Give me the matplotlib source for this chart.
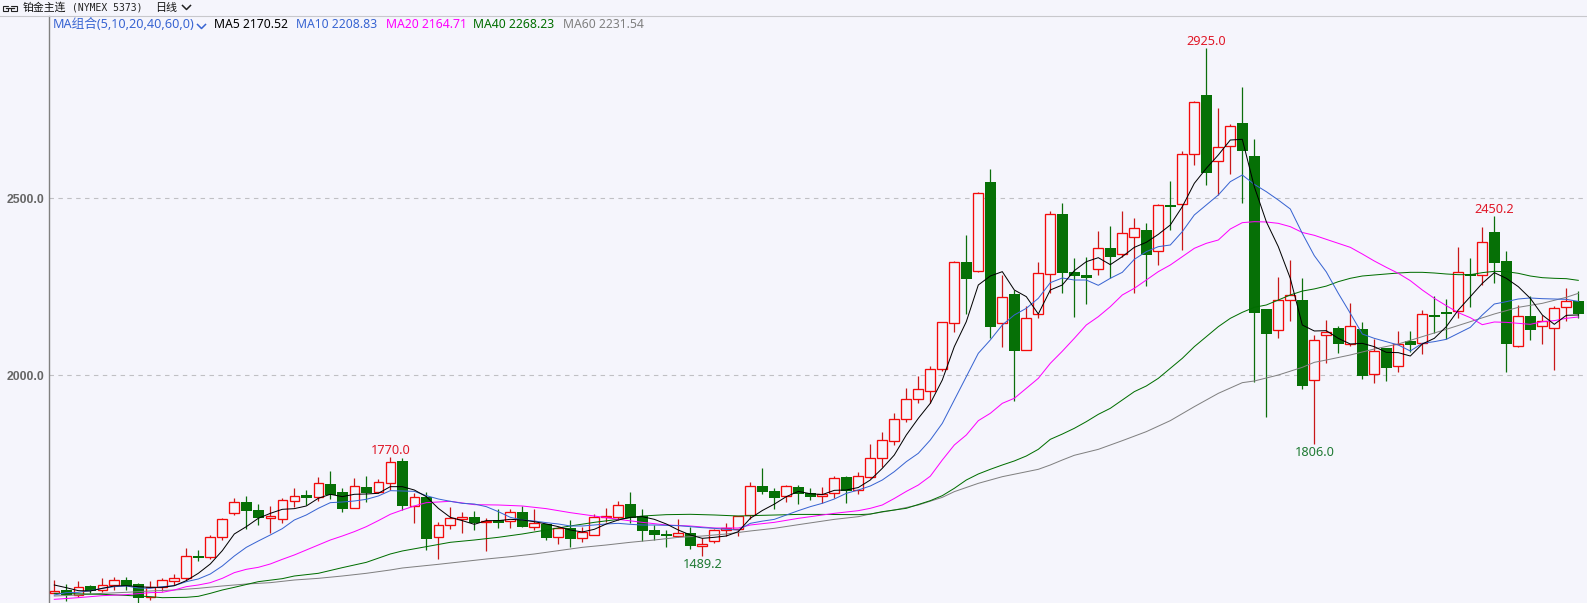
import matplotlib
matplotlib.use('Agg')
import matplotlib.pyplot as plt
from matplotlib.lines import Line2D
from matplotlib.patches import Rectangle
import numpy as np

W, H = 1587, 603
BG = '#F5F5FC'

# daily candles
opens = [1386, 1393, 1378, 1405, 1393, 1409, 1422, 1410, 1375, 1401, 1420, 1426, 1490, 1488, 1544, 1612,
         1642, 1620, 1598, 1593, 1646, 1662, 1657, 1693, 1670, 1626, 1685, 1671, 1697, 1758, 1632, 1656,
         1544, 1578, 1595, 1599, 1585, 1591, 1587, 1614, 1572, 1581, 1542, 1568, 1541, 1550, 1599, 1601,
         1636, 1602, 1562, 1551, 1547, 1554, 1519, 1531, 1563, 1565, 1604, 1687, 1672, 1658, 1685, 1667,
         1660, 1667, 1713, 1676, 1714, 1765, 1813, 1876, 1932, 1955, 2017, 2147, 2320, 2294, 2546, 2149,
         2230, 2071, 2172, 2285, 2456, 2292, 2283, 2299, 2361, 2342, 2390, 2410, 2350, 2481, 2483, 2624,
         2792, 2604, 2647, 2713, 2620, 2187, 2127, 2212, 2213, 1986, 2115, 2134, 2089, 2131, 2003, 2077,
         2025, 2096, 2090, 2170, 2179, 2181, 2286, 2282, 2405, 2323, 2082, 2167, 2138, 2135, 2192, 2209]
highs = [1422, 1410, 1419, 1408, 1426, 1430, 1430, 1414, 1419, 1426, 1439, 1512, 1507, 1549, 1597, 1653,
         1659, 1636, 1631, 1653, 1682, 1676, 1713, 1730, 1681, 1710, 1716, 1706, 1770, 1766, 1667, 1669,
         1585, 1628, 1614, 1617, 1596, 1621, 1621, 1631, 1622, 1581, 1572, 1591, 1572, 1608, 1624, 1645,
         1670, 1622, 1577, 1563, 1594, 1572, 1539, 1565, 1582, 1602, 1699, 1738, 1681, 1690, 1690, 1681,
         1685, 1716, 1716, 1727, 1806, 1840, 1893, 1964, 1998, 2026, 2150, 2323, 2396, 2517, 2583, 2283,
         2241, 2196, 2320, 2463, 2488, 2331, 2333, 2409, 2422, 2464, 2444, 2430, 2484, 2549, 2634, 2774,
         2925, 2755, 2710, 2814, 2668, 2187, 2278, 2326, 2275, 2114, 2156, 2139, 2204, 2150, 2103, 2077,
         2125, 2126, 2185, 2223, 2216, 2362, 2330, 2418, 2450.2, 2351, 2200, 2223, 2170, 2195, 2246, 2237]
lows = [1384, 1363, 1375, 1384, 1389, 1393, 1393, 1357, 1365, 1390, 1407, 1422, 1474, 1480, 1535, 1605,
        1566, 1577, 1555, 1584, 1629, 1634, 1646, 1651, 1614, 1626, 1643, 1667, 1676, 1620, 1584, 1506,
        1482, 1567, 1555, 1563, 1505, 1570, 1569, 1572, 1563, 1535, 1523, 1516, 1530, 1550, 1585, 1591,
        1584, 1531, 1535, 1516, 1544, 1510, 1489.2, 1525, 1546, 1546, 1593, 1665, 1623, 1643, 1636, 1648,
        1638, 1652, 1638, 1665, 1709, 1742, 1803, 1869, 1923, 1921, 2013, 2123, 2173, 2292, 2104, 2081,
        1928, 2071, 2163, 2232, 2233, 2166, 2201, 2283, 2274, 2335, 2233, 2253, 2312, 2410, 2354, 2594,
        2538, 2509, 2569, 2488, 1982, 1883, 2106, 2152, 1962, 1806, 2036, 2064, 2083, 1990, 1979, 1985,
        2009, 2067, 2061, 2119, 2103, 2162, 2194, 2255, 2262, 2010, 2081, 2100, 2089, 2015, 2154, 2162]
closes = [1392, 1378, 1401, 1390, 1407, 1421, 1405, 1372, 1401, 1421, 1426, 1489, 1484, 1542, 1593, 1641,
          1618, 1597, 1602, 1647, 1658, 1653, 1695, 1661, 1623, 1686, 1667, 1698, 1754, 1632, 1655, 1538,
          1578, 1596, 1599, 1582, 1588, 1584, 1613, 1572, 1584, 1541, 1568, 1538, 1556, 1599, 1602, 1635,
          1597, 1561, 1549, 1547, 1554, 1519, 1524, 1562, 1569, 1602, 1686, 1671, 1654, 1686, 1664, 1657,
          1664, 1709, 1673, 1715, 1765, 1816, 1876, 1932, 1960, 2017, 2150, 2319, 2273, 2514, 2137, 2220,
          2070, 2161, 2288, 2456, 2290, 2280, 2276, 2361, 2335, 2401, 2415, 2341, 2480, 2476, 2624, 2771,
          2572, 2644, 2703, 2635, 2177, 2118, 2212, 2226, 1971, 2099, 2122, 2089, 2138, 1999, 2068, 2022,
          2088, 2086, 2172, 2165, 2173, 2291, 2281, 2376, 2318, 2089, 2167, 2129, 2152, 2189, 2209, 2174]

ma5 = [1407.6, 1400, 1391.6, 1390.7, 1398.2, 1404.8, 1405.7, 1402.9, 1401, 1401, 1405.7, 1419.9, 1440.6, 1467, 1504.6,
       1551.7, 1572.4, 1596, 1610, 1621.4, 1623.3, 1630.8, 1652.5, 1663.8, 1657.2, 1663.8, 1664.7, 1666.6, 1685.4, 1685.4,
       1676, 1657.2, 1624.2, 1598.8, 1589.4, 1579, 1589.4, 1589.4, 1593.1, 1591.2, 1586.5, 1580, 1572.4, 1563, 1557.4,
       1564.9, 1580, 1591.2, 1598.8, 1600.7, 1593.1, 1580, 1563, 1548.9, 1539.4, 1542.3, 1546, 1558.3, 1596, 1618,
       1636, 1657.2, 1672, 1665.5, 1663, 1675, 1676, 1683, 1704.2, 1737.2, 1774.8, 1831.3, 1878.4, 1920.8, 1986.7,
       2080.9, 2151.5, 2255.1, 2280.5, 2292.8, 2241, 2222.2, 2173.2, 2241, 2255.1, 2295.6, 2321, 2332.3, 2312.6, 2335.1,
       2361.5, 2375.6, 2398.2, 2424.6, 2476.4, 2542.3, 2584.7, 2622.4, 2664.7, 2666.6, 2532.9, 2434, 2363.4, 2273.9, 2142.1,
       2125.2, 2126.1, 2104.4, 2088.4, 2090.3, 2080.9, 2064.9, 2064, 2054.5, 2088.4, 2104.4, 2137.4, 2184.5, 2222.2, 2259.8,
       2290, 2274, 2250.4, 2217.4, 2170.4, 2144, 2169.4, 2170.52]
ma10 = [1379.4, 1386, 1386.9, 1391.6, 1398.2, 1402.9, 1404.8, 1399.1, 1398.2, 1402.9, 1405.7, 1417, 1424.6, 1438.7, 1461.3,
        1489.5, 1514, 1531.9, 1548.9, 1566.8, 1591.2, 1605.4, 1624.2, 1640.2, 1642.1, 1644.9, 1649.6, 1659, 1674.1, 1673.2,
        1672.2, 1660, 1650.6, 1644, 1638.3, 1636.4, 1628.9, 1614.8, 1598.8, 1591.2, 1588.4, 1583.7, 1580, 1574.3, 1574.3,
        1577.1, 1580, 1581.8, 1579, 1577.1, 1577.1, 1576.2, 1575.2, 1572.4, 1569.6, 1567.7, 1564.9, 1563, 1581.8, 1588,
        1593, 1605.3, 1617.6, 1628.9, 1638.3, 1650.5, 1666.5, 1676, 1687.3, 1704.2, 1727.8, 1756, 1779.6, 1817.2, 1864.3,
        1930.2, 1996.1, 2062.1, 2099.8, 2142.1, 2170.4, 2189.2, 2217.4, 2261.7, 2274.9, 2269.2, 2269.2, 2254.2, 2274, 2290.9,
        2327.6, 2349.3, 2363.4, 2368.1, 2405.8, 2452.9, 2481.1, 2509.4, 2547, 2565.9, 2539.5, 2518.8, 2495.2, 2469.8, 2401,
        2338, 2292, 2231.6, 2175.1, 2116.7, 2104.4, 2095, 2085.6, 2068.7, 2090.3, 2095, 2101.6, 2118.6, 2135.5, 2170.4,
        2201.4, 2208, 2215.6, 2218.4, 2216.5, 2215.6, 2214.6, 2208.83]

ma20_idx = [0, 2, 4, 6, 8, 9, 10, 11, 12, 13, 14, 15, 16, 17, 18, 19, 20, 21, 22, 23, 24, 25, 26, 27, 28, 29,
            30, 31, 33, 35, 37, 39, 41, 43, 45, 47, 49, 51, 53, 55, 57, 58, 60, 62, 64, 65, 67, 68, 69,
            70, 71, 72, 73, 74, 75, 76, 77, 78, 79, 80, 81, 82, 83, 84, 85, 86, 87, 88, 89, 90, 91, 92, 93, 94, 95, 96,
            97, 98, 99, 100, 101, 102, 103, 104, 105, 106, 107, 108, 109, 110, 111, 112, 113, 114, 115, 116, 117,
            118, 119, 120, 121, 122, 123, 124, 125, 126, 127]
ma20 = [1367.1, 1371.8, 1377.5, 1380.3, 1386, 1386.9, 1393.5, 1402.9, 1407.6, 1414.2, 1426.4, 1442.5, 1451.9, 1457.5, 1467,
        1480.1, 1492.4, 1506.5, 1520.6, 1534.7, 1546, 1558.3, 1572.4, 1589.4, 1607.3, 1619.5,
        1630.8, 1640.2, 1644, 1634.6, 1633.6, 1630.8, 1623.3, 1612, 1602.5, 1593.1, 1584.6, 1577.1, 1574.3, 1568.6, 1568.6,
        1577.1, 1584.6, 1595.9, 1605.3, 1610, 1617.6, 1624.2, 1633.6,
        1652, 1672, 1690, 1715, 1760.7, 1803.1, 1831.3, 1871.8, 1892.6, 1920.8, 1935, 1963.2, 1991.4, 2033.8, 2068, 2104.4,
        2142.1, 2165.6, 2193.9, 2226.9, 2245.7, 2269.2, 2292.8, 2311.6, 2335.1, 2358.7, 2372.8,
        2382.2, 2413.3, 2431.2, 2434, 2433.1, 2429.3, 2419.9, 2403.5, 2395.5, 2384.1, 2372.8, 2361.5, 2342.7, 2322.9, 2305,
        2288.1, 2267.4, 2241, 2217.4, 2196.7, 2177,
        2162.8, 2143, 2150.6, 2149.6, 2146.8, 2144, 2151.5, 2154.4, 2161, 2164.71]

ma40_idx = [0, 4, 7, 8, 9, 11, 12, 13, 14, 15, 17, 19, 20, 22, 24, 26, 28, 29,
            31, 33, 35, 37, 39, 41, 43, 45, 47, 49, 51, 53, 55, 57, 59, 62, 64, 67, 68, 69, 71, 73,
            74, 75, 76, 77, 78, 79, 80, 81, 82, 83, 84, 85, 86, 87, 88, 89, 90, 91, 92, 93, 94, 95, 96,
            97, 98, 99, 100, 101, 102, 103, 104, 105, 106, 107, 108, 109, 110, 111, 112, 113, 114, 115, 116, 117,
            118, 119, 120, 121, 122, 123, 124, 125, 126, 127]
ma40 = [1384, 1381.3, 1376.5, 1374.6, 1371.8, 1372.8, 1375.6, 1384, 1393.5, 1401, 1417, 1425.5, 1433, 1440.6, 1456.6, 1471.6,
        1495.2, 1503.7,
        1515.9, 1528.2, 1534.7, 1542.3, 1551.7, 1563, 1574.3, 1584.6, 1593.1, 1602.5, 1606.3, 1607.3, 1605.4, 1602.5, 1604.4,
        1607, 1607, 1606.3, 1608, 1614.7, 1624.2, 1645.8,
        1660, 1680.7, 1704.2, 1721.2, 1734.4, 1746.6, 1758, 1772, 1790.9, 1819.1, 1834, 1850.2, 1869, 1889.7, 1906.7, 1930.2,
        1953.8, 1969.8, 1991.4, 2019.7, 2047.9, 2080.9, 2109.1,
        2137.4, 2160.9, 2177.9, 2192, 2198.6, 2212.7, 2226.9, 2238, 2244, 2252, 2264.5, 2274, 2280.5, 2283.4, 2286.2, 2289,
        2290.9, 2290.9, 2289, 2286.2, 2284.3,
        2284.3, 2290, 2293.7, 2292.8, 2288.1, 2280.5, 2275.8, 2274, 2273, 2268.23]

ma60_idx = [0, 2, 4, 6, 8, 10, 12, 14, 16, 18, 20, 22, 24, 26, 28, 29, 32, 34, 36, 38, 40, 42, 44, 46, 48, 50, 52, 54,
            56, 58, 60, 62, 65, 67, 68, 70, 72, 74, 75, 77, 79, 82, 83, 84, 85, 87, 89, 91, 93, 95, 97, 99, 100, 102, 104,
            105, 106, 108, 110, 112, 114, 116, 118, 120, 122, 124, 126, 127]
ma60 = [1376.5, 1379.4, 1384, 1386.9, 1390.7, 1393.5, 1398.2, 1404.8, 1410.4, 1414.2, 1421.7, 1426.4, 1433, 1440.6, 1450, 1455.6,
        1466, 1473.5, 1481, 1487.6, 1495.2, 1504.6, 1514, 1520.6, 1528.2, 1534.7, 1542.3, 1546,
        1551.7, 1560.2, 1567.7, 1578, 1593, 1600.6, 1608.1, 1619.4, 1633.6, 1655.2, 1671.3, 1694.8, 1713.6, 1734.4, 1746.6,
        1760.7, 1774, 1790.8, 1815.3, 1840.8, 1871.9, 1911.4, 1949, 1979.2, 1983.9, 2000.8, 2022.5,
        2036.6, 2043.2, 2057.4, 2074.3, 2088.4, 2109.2, 2129.9, 2151.5, 2173.2, 2192, 2203.3, 2220.3, 2231.54]

ma_lines = [('MA60', ma60_idx, ma60, '#808080', 2231.54, 563),
            ('MA40', ma40_idx, ma40, '#006E00', 2268.23, 473.5),
            ('MA20', ma20_idx, ma20, '#FF00FF', 2164.71, 385.5),
            ('MA10', list(range(128)), ma10, '#3864D2', 2208.83, 296),
            ('MA5', list(range(128)), ma5, '#000000', 2170.52, 214)]

# the price labels on the highest and lowest bars
peak_labels = [(28, 1770.0), (96, 2925.0), (120, 2450.2)]
trough_labels = [(54, 1489.2), (105, 1806.0)]

yticks = [2000, 2500]

fig = plt.figure(figsize=(W / 100, H / 100), dpi=100, facecolor=BG)
ax = fig.add_axes([49 / W, 0, (W - 49) / W, (H - 16) / H], facecolor=BG)

o, h, l, c = map(np.array, (opens, highs, lows, closes))
xs = np.arange(len(o))
up = c >= o
top = np.maximum(o, c)
bottom = np.minimum(o, c)

ax.vlines(xs[up], l[up], h[up], color='#C81818', lw=0.9, zorder=2)
ax.vlines(xs[~up], l[~up], h[~up], color='#0C6E0C', lw=0.9, zorder=2)
ax.bar(xs[up], (top - bottom)[up], bottom=bottom[up], width=9.6 / 12, facecolor=BG,
       edgecolor='#F40A0A', lw=0.95, zorder=3)
ax.bar(xs[~up], (top - bottom)[~up], bottom=bottom[~up], width=11 / 12, color='#067006', lw=0, zorder=3)

for name, idx, vals, col, last, lx in ma_lines:
    ax.plot(idx, vals, color=col, lw=0.72, zorder=4)
    fig.text(lx / W, 1 - 24.5 / H, f'{name} {last:.2f}', color=col, fontsize=8.8,
             family='Noto Sans', va='center', ha='left')

for i, v in peak_labels:
    ax.annotate(f'{v:.1f}', (i, v), xytext=(0, 4.8), textcoords='offset points', ha='center', va='center',
                color='#E01828', fontsize=9.2, family='Noto Sans')
for i, v in trough_labels:
    ax.annotate(f'{v:.1f}', (i, v), xytext=(0, -6), textcoords='offset points', ha='center', va='center',
                color='#1F7A33', fontsize=9.2, family='Noto Sans')

ax.set_xlim((49 - 54.3) / 12, (W - 54.3) / 12)
ax.set_ylim(2000 + (375.3 - 603) * 2.825, 2000 + (375.3 - 16) * 2.825)
ax.set_xticks([])
ax.set_yticks(yticks)
ax.set_yticklabels([f'{t:.1f}' for t in yticks], color='#666666', fontsize=8.8, family='Liberation Sans', weight='bold')
ax.tick_params(axis='y', length=0, pad=3)
ax.grid(axis='y', color='#C0C0C4', lw=0.8, linestyle=(0, (4, 4)), zorder=1)
ax.set_axisbelow(True)
for s in ('top', 'right', 'bottom'):
    ax.spines[s].set_visible(False)
ax.spines['left'].set_color('#808080')
ax.spines['left'].set_linewidth(1.0)

# header strip
fig.add_artist(Line2D([0, 1], [1 - 15.5 / H] * 2, color='#C8C8CC', lw=0.8))
for bx in (2.5, 11):
    fig.add_artist(Rectangle((bx / W, 1 - 10.5 / H), 5.5 / W, 4.5 / H, fill=False, ec='#222222', lw=0.8,
                             transform=fig.transFigure))
fig.add_artist(Rectangle((6 / W, 1 - 9.2 / H), 7 / W, 2 / H, fc=BG, ec='none', transform=fig.transFigure))
fig.add_artist(Line2D([5.5 / W, 13.5 / W], [1 - 8.2 / H] * 2, color='#222222', lw=0.9))
fig.text(22.5 / W, 1 - 7.5 / H, '铂金主连', fontsize=7.8, family='Noto Sans CJK SC', va='center', color='#111111')
fig.text(71.5 / W, 1 - 7.5 / H, '(NYMEX 5373)', fontsize=7, family='DejaVu Sans Mono', va='center', color='#222222')
fig.text(155.5 / W, 1 - 7.5 / H, '日线', fontsize=7.9, family='Noto Sans CJK SC', va='center', color='#111111')
fig.add_artist(Line2D(np.array([182.5, 186.5, 190.5]) / W, 1 - np.array([5.5, 9.5, 5.5]) / H, color='#222222', lw=1.1))
fig.text(53 / W, 1 - 24.5 / H, 'MA组合(5,10,20,40,60,0)', fontsize=9.1, family=['Noto Sans', 'Noto Sans CJK SC'],
         va='center', color='#3864D2')
fig.add_artist(Line2D(np.array([197.5, 201.5, 205.5]) / W, 1 - np.array([24.5, 28.5, 24.5]) / H, color='#3864D2', lw=1.1))

fig.savefig('out.png', dpi=100, facecolor=BG)
